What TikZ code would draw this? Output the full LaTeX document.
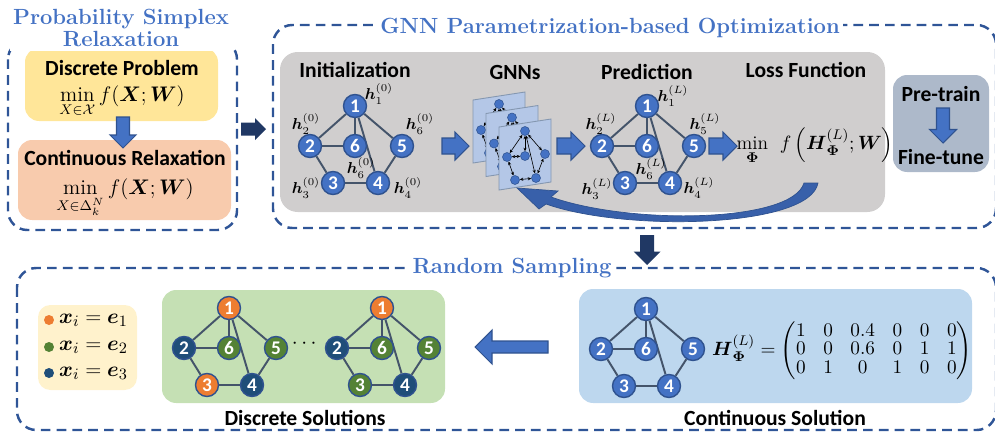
\documentclass[tikz,border=0pt]{standalone}
\usepackage{amsmath,amssymb}
\usepackage{fontspec}
\setsansfont{Carlito}
\usetikzlibrary{arrows.meta}

\definecolor{dashblue}{RGB}{47,85,151}
\definecolor{titleblue}{RGB}{68,114,196}
\definecolor{nblue}{RGB}{68,114,196}
\definecolor{nborder}{RGB}{47,82,143}
\definecolor{navyarr}{RGB}{32,56,100}
\definecolor{gnnback}{RGB}{208,206,206}
\definecolor{yelbox}{RGB}{255,230,153}
\definecolor{peachbox}{RGB}{248,203,173}
\definecolor{steelbox}{RGB}{173,185,202}
\definecolor{panelblue}{RGB}{180,199,231}
\definecolor{panelline}{RGB}{132,151,176}
\definecolor{greenbox}{RGB}{197,224,180}
\definecolor{skybox}{RGB}{189,215,238}
\definecolor{legbox}{RGB}{255,242,204}
\definecolor{sorange}{RGB}{237,125,49}
\definecolor{sgreen}{RGB}{84,130,53}
\definecolor{snavy}{RGB}{31,78,121}
\definecolor{edgegray}{RGB}{68,84,106}
\definecolor{curveblue}{RGB}{56,96,170}

\pgfdeclarelayer{back}
\pgfdeclarelayer{mid}
\pgfsetlayers{back,mid,main}

\begin{document}
\begin{tikzpicture}[x=0.02cm,y=-0.02cm,
	dashbox/.style={draw=dashblue,line width=1.4pt,dash pattern=on 5.5pt off 3.5pt,rounded corners=11pt},
	ttl/.style={font=\rmfamily\bfseries\fontsize{12.5}{13}\selectfont,text=titleblue,fill=white,align=center,inner sep=2pt},
	lbl/.style={font=\sffamily\bfseries\fontsize{12.3}{14}\selectfont,inner sep=1pt},
	mth/.style={font=\fontsize{12}{14}\selectfont,inner sep=1pt},
	hlbl/.style={font=\fontsize{9}{11}\selectfont,inner sep=0pt},
	gnode/.style={circle,draw=nborder,line width=0.8pt,minimum size=0.46cm,inner sep=0pt,text=white,font=\sffamily\bfseries\fontsize{11}{11}\selectfont},
	gedge/.style={draw=edgegray,line width=1.1pt},
	mnode/.style={circle,fill=nblue,draw=nborder,line width=0.3pt,minimum size=0.18cm,inner sep=0pt},
	medge/.style={<->,>={Stealth[length=2pt,width=1.8pt]},line width=0.35pt},
	panel/.style={fill=panelblue,draw=panelline,line width=0.5pt},
	blk/.style={fill=nblue,draw=nborder,line width=0.6pt},
	navyblk/.style={fill=navyarr},
	pics/barrow/.style n args={3}{code={\path[pic actions] (0,-#2) -- ({#1-#3},-#2) -- ({#1-#3},-#3) -- (#1,0) -- ({#1-#3},#3) -- ({#1-#3},#2) -- (0,#2) -- cycle;}}]

	\useasboundingbox (0,0) rectangle (995,433);
	\def\hb{\boldsymbol{h}}
	\def\bphi{\boldsymbol{\Phi}}

	\begin{pgfonlayer}{back}
	\draw[dashbox] (8,40) rectangle (237,230);
	\draw[dashbox] (273,25) rectangle (996,228);
	\draw[dashbox] (17,268) rectangle (996,430);
	\fill[yelbox,rounded corners=8pt] (25,48) rectangle (218,121);
	\fill[peachbox,rounded corners=8pt] (18,140) rectangle (231,220);
	\fill[gnnback,rounded corners=10pt] (280,52) rectangle (885,212);
	\fill[steelbox,rounded corners=8pt] (893,75) rectangle (989,172);
	\fill[legbox,rounded corners=7pt] (38,305) rectangle (137,390);
	\fill[greenbox,rounded corners=8pt] (162,290) rectangle (445,403);
	\fill[skybox,rounded corners=8pt] (579,289) rectangle (972,403);
	\end{pgfonlayer}

	% titles
	\node[ttl] (tpsr) at (121,28) {Probability Simplex\\Relaxation};
	\node[ttl] (tgnn) at (610,28) {GNN Parametrization-based Optimization};
	\node[ttl] (trs) at (512,268) {Random Sampling};

	% relaxation
	\node[lbl] (dpt) at (122,68) {Discrete Problem};
	\node[mth] (dpm) at (122,102) {$\min\limits_{X\in\mathcal{X}} f(\boldsymbol{X};\boldsymbol{W})$};
	\node[lbl] (crt) at (125,158) {Continuous Relaxation};
	\node[mth] (crm) at (125,198) {$\min\limits_{X\in\Delta_k^N} f(\boldsymbol{X};\boldsymbol{W})$};
	\pic[blk,rotate=-90] at (123,117) {barrow={31}{6.5}{13}};
	\pic[navyblk] at (241,129) {barrow={25}{6.5}{11}};

	% graphs
	\foreach \g/\cx/\cy/\ca/\cb/\cc/\cd/\ce/\cf in {
		a/355/146/nblue/nblue/nblue/nblue/nblue/nblue,
		b/647/146/nblue/nblue/nblue/nblue/nblue/nblue,
		c/229/348/sorange/snavy/sorange/snavy/sgreen/sgreen,
		d/382/348/sorange/snavy/sgreen/snavy/sgreen/sgreen,
		e/646/349/nblue/nblue/nblue/nblue/nblue/nblue}
	{
		\node[gnode,fill=\ca] (\g1) at (\cx,\cy-40) {1};
		\node[gnode,fill=\cb] (\g2) at (\cx-45,\cy) {2};
		\node[gnode,fill=\cc] (\g3) at (\cx-22,\cy+37) {3};
		\node[gnode,fill=\cd] (\g4) at (\cx+23,\cy+37) {4};
		\node[gnode,fill=\ce] (\g5) at (\cx+47,\cy) {5};
		\node[gnode,fill=\cf] (\g6) at (\cx,\cy) {6};
		\begin{pgfonlayer}{mid}
		\draw[gedge] (\g1)--(\g2) (\g1)--(\g6) (\g1)--(\g4) (\g1)--(\g5) (\g2)--(\g6) (\g2)--(\g3) (\g3)--(\g4) (\g4)--(\g5);
		\end{pgfonlayer}
	}

	\node[hlbl] (ha1) at (379,94) {$\hb_1^{(0)}$};
	\node[hlbl] (ha2) at (306,124) {$\hb_2^{(0)}$};
	\node[hlbl] (ha5) at (420,124) {$\hb_6^{(0)}$};
	\node[hlbl] (ha6) at (361,168) {$\hb_6^{(0)}$};
	\node[hlbl] (ha3) at (306,188) {$\hb_3^{(0)}$};
	\node[hlbl] (ha4) at (408,188) {$\hb_4^{(0)}$};
	\node[hlbl] (hb1) at (673,96) {$\hb_1^{(L)}$};
	\node[hlbl] (hb2) at (601,124) {$\hb_2^{(L)}$};
	\node[hlbl] (hb5) at (705,124) {$\hb_5^{(L)}$};
	\node[hlbl] (hb6) at (651,169) {$\hb_6^{(L)}$};
	\node[hlbl] (hb3) at (597,189) {$\hb_3^{(L)}$};
	\node[hlbl] (hb4) at (699,188) {$\hb_4^{(L)}$};

	% gnn layers
	\foreach \i in {0,1,2} {
		\pgfmathsetmacro\px{473+13*\i}
		\pgfmathsetmacro\py{100+13.5*\i}
		\draw[panel] (\px,\py) -- ++(52,-8) -- ++(0,63) -- ++(-52,8) -- cycle;
		\node[mnode] (m\i1) at (\px+26,\py+4) {};
		\node[mnode] (m\i2) at (\px+8,\py+30) {};
		\node[mnode] (m\i3) at (\px+16,\py+53) {};
		\node[mnode] (m\i4) at (\px+37,\py+51) {};
		\node[mnode] (m\i5) at (\px+46,\py+27) {};
		\node[mnode] (m\i6) at (\px+26,\py+29) {};
		\draw[medge] (m\i1)--(m\i2);
		\draw[medge] (m\i1)--(m\i6);
		\draw[medge] (m\i1)--(m\i4);
		\draw[medge] (m\i1)--(m\i5);
		\draw[medge] (m\i2)--(m\i6);
		\draw[medge] (m\i2)--(m\i3);
		\draw[medge] (m\i3)--(m\i4);
		\draw[medge] (m\i4)--(m\i5);
	}

	\node[lbl] (linit) at (355,70) {Initialization};
	\node[lbl] (lgnn) at (515,72) {GNNs};
	\node[lbl] (lpred) at (647,72) {Prediction};
	\node[lbl] (lloss) at (806,70) {Loss Function};
	\node[mth,font=\fontsize{11}{13}\selectfont] (loss) at (815,146) {$\min\limits_{\bphi}\;\, f\left(\boldsymbol{H}_{\bphi}^{(L)};\boldsymbol{W}\right)$};
	\pic[blk] at (442,146) {barrow={27}{8}{14}};
	\pic[blk] at (557,146) {barrow={28}{8}{14}};
	\pic[blk] at (709,146) {barrow={28}{8}{14}};

	% feedback
	\coordinate (cvs) at (818,183);
	\coordinate (cve) at (517,188);
	\filldraw[fill=curveblue,draw=nborder,line width=0.4pt] (804,183) -- (cvs) .. controls (810,228) and (625,232) .. (546,204) -- (539,209) -- (cve) -- (558,191) -- (551,197) .. controls (630,225) and (792,223) .. (804,183) -- cycle;

	\node[lbl] (lpre) at (941,94) {Pre-train};
	\node[lbl] (lfine) at (941,157) {Fine-tune};
	\pic[blk,rotate=-90] at (943,108) {barrow={35}{6.5}{13.5}};

	\pic[navyblk,rotate=-90] at (647,235) {barrow={30}{7}{13.5}};

	% sampling
	\foreach \c/\k/\y in {sorange/1/320,sgreen/2/347,snavy/3/373} {
		\node[circle,fill=\c,minimum size=0.2cm,inner sep=0pt] (b\k) at (49,\y) {};
		\node[mth,anchor=west,font=\fontsize{13}{14}\selectfont] (leg\k) at (57,\y) {$\boldsymbol{x}_i=\boldsymbol{e}_\k$};
	}
	\node[mth] (dots) at (306,344) {$\cdots$};
	\node[lbl] (ldis) at (305,418) {Discrete Solutions};
	\node[lbl] (lcon) at (775,418) {Continuous Solution};
	\node[mth,font=\fontsize{11}{13}\selectfont] (hmat) at (842,351) {\renewcommand{\arraystretch}{0.82}$\boldsymbol{H}_{\bphi}^{(L)}=\begin{pmatrix}1&0&0.4&0&0&0\\0&0&0.6&0&1&1\\0&1&0&1&0&0\end{pmatrix}$};
	\pic[blk,rotate=180] at (548,347) {barrow={73}{6}{17}};
\end{tikzpicture}
\end{document}
